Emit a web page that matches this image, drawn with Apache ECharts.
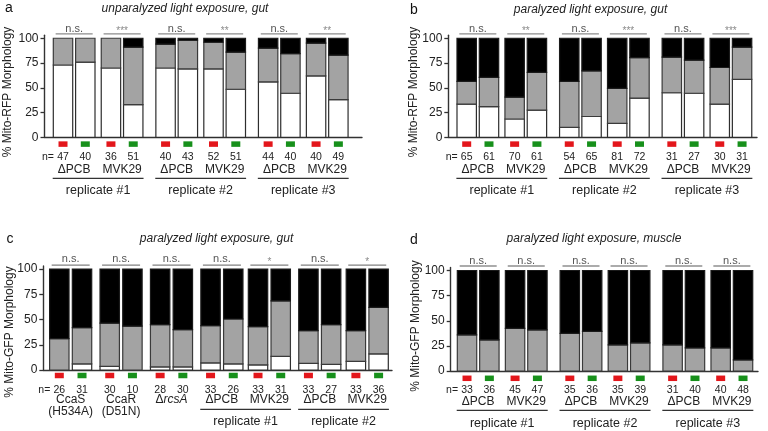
<!DOCTYPE html>
<html><head><meta charset="utf-8">
<script src="https://cdn.jsdelivr.net/npm/echarts@6/dist/echarts.min.js"></script>
<style>html,body{margin:0;padding:0;background:#fff}#c{width:768px;height:431px}</style>
</head><body><div id="c"></div>
<script>
// ================= DATA =================
// Panel a: unparalyzed light exposure, gut (% Mito-RFP Morphology)
const aWhite = [73, 76, 70, 33, 70, 69, 69, 48.5, 56, 44.5, 62, 38];
const aGray  = [27, 24, 30, 58, 24, 29, 27, 37.5, 34, 40, 33, 45];
const aBlack = [0, 0, 0, 9, 6, 2, 4, 14, 10, 15.5, 5, 17];
const aN     = [47, 40, 36, 51, 40, 43, 52, 51, 44, 40, 40, 49];
const aSig   = ['n.s.', '***', 'n.s.', '**', 'n.s.', '**'];

// Panel b: paralyzed light exposure, gut (% Mito-RFP Morphology)
const bWhite = [33.5, 31, 18.5, 27.5, 10, 21, 14, 39.5, 45, 44.5, 33.5, 58.5];
const bGray  = [23, 29.5, 22, 38, 46.5, 46, 35.5, 41, 36, 33.5, 37, 32.5];
const bBlack = [43.5, 39.5, 59.5, 34.5, 43.5, 33, 50.5, 19.5, 19, 22, 29.5, 9];
const bN     = [65, 61, 70, 61, 54, 65, 81, 72, 31, 27, 30, 31];
const bSig   = ['n.s.', '**', 'n.s.', '***', 'n.s.', '***'];

// Panel c: paralyzed light exposure, gut (% Mito-GFP Morphology)
const cWhite = [0, 6, 3.5, 0, 3, 3, 7, 6, 5, 13.5, 6.5, 5.5, 8.5, 16];
const cGray  = [31, 36, 43, 43.5, 42, 37, 37, 44.5, 38, 55, 32.5, 39.5, 30.5, 46];
const cBlack = [69, 58, 53.5, 56.5, 55, 60, 56, 49.5, 57, 31.5, 61, 55, 61, 38];
const cN     = [26, 31, 30, 10, 28, 30, 33, 26, 33, 31, 33, 27, 33, 36];
const cSig   = ['n.s.', 'n.s.', 'n.s.', 'n.s.', '*', 'n.s.', '*'];

// Panel d: paralyzed light exposure, muscle (% Mito-GFP Morphology)
const dWhite = [0, 0, 0, 0, 0, 0, 0, 0, 0, 0, 0, 0];
const dGray  = [36, 31, 42.5, 41, 37.5, 39.5, 26, 28, 26, 23, 23, 11];
const dBlack = [64, 69, 57.5, 59, 62.5, 60.5, 74, 72, 74, 77, 77, 89];
const dN     = [33, 36, 45, 47, 35, 36, 35, 39, 31, 40, 40, 48];
const dSig   = ['n.s.', 'n.s.', 'n.s.', 'n.s.', 'n.s.', 'n.s.'];

// categories
const lightColors = ['#e3161b', '#17901b'];           // red light, green light (per pair)
const abdGenotypes = ['ΔPCB', 'MVK29', 'ΔPCB', 'MVK29', 'ΔPCB', 'MVK29'];
const cGenotypes   = ['CcaS\n(H534A)', 'CcaR\n(D51N)', '{d|Δ}{i|rcsA}', 'ΔPCB', 'MVK29', 'ΔPCB', 'MVK29'];
const abdReplicates = ['replicate #1', 'replicate #2', 'replicate #3'];
const cReplicates   = ['', '', '', 'replicate #1', 'replicate #2'];
const abdClusterPairs = [2, 2, 2];
const cClusterPairs   = [1, 1, 1, 2, 2];
const yTicks = [0, 25, 50, 75, 100];

// ================= LAYOUT =================
const FONT = '"Liberation Sans", Arial, Helvetica, sans-serif';
const GRAY = '#a3a3a3';

function layoutPanel(clusterPairs, pairExtra, clusterExtra) {
  const bars = [], pairs = [], clusters = [];
  let x = 0, started = false;
  clusterPairs.forEach((np) => {
    const cStart = bars.length;
    for (let p = 0; p < np; p++) {
      const ps = bars.length;
      for (let k = 0; k < 2; k++) {
        if (started) x += 1 + (k === 0 ? (p === 0 ? clusterExtra : pairExtra) : 0);
        started = true;
        bars.push(x);
      }
      pairs.push((bars[ps] + bars[ps + 1]) / 2);
    }
    clusters.push([bars[cStart], bars[bars.length - 1]]);
  });
  return { bars, pairs, clusters };
}

const panels = [
  { white: aWhite, gray: aGray, black: aBlack, n: aN, sig: aSig, geno: abdGenotypes, reps: abdReplicates,
    lay: layoutPanel(abdClusterPairs, 0.15, 0.45),
    grid: { left: 44.5, right: 406, top: 35.3, bottom: 293.7 }, xMin: -0.83, xMax: 13.41,
    off: { sq: 6.8, n: 19.4, geno: 32.5, uline: 41, rep: 53, sigLine: -4.3, sigText: -9.5 },
    sigStyle: { stroke: '#8c8c8c', lineWidth: 1.3 }, sigHalf: 18.5,
    letter: ['a', 9, 8.5], title: ['unparalyzed light exposure, gut', 185, 8.5],
    yName: ['% Mito-RFP Morphology', 8, 92] },
  { white: bWhite, gray: bGray, black: bBlack, n: bN, sig: bSig, geno: abdGenotypes, reps: abdReplicates,
    lay: layoutPanel(abdClusterPairs, 0.15, 0.45),
    grid: { left: 448.3, right: 11, top: 35.3, bottom: 293.7 }, xMin: -0.825, xMax: 13.02,
    off: { sq: 6.8, n: 19.4, geno: 32.5, uline: 41, rep: 53, sigLine: -4.3, sigText: -9.5 },
    sigStyle: { stroke: '#8c8c8c', lineWidth: 1.3 }, sigHalf: 18.5,
    letter: ['b', 414, 10.5], title: ['paralyzed light exposure, gut', 590.5, 10],
    yName: ['% Mito-RFP Morphology', 414, 92] },
  { white: cWhite, gray: cGray, black: cBlack, n: cN, sig: cSig, geno: cGenotypes, reps: cReplicates,
    lay: layoutPanel(cClusterPairs, 0.09, 0.22),
    grid: { left: 43.3, right: 376, top: 266, bottom: 61 }, xMin: -0.705, xMax: 14.65,
    off: { sq: 5.5, n: 20, geno: 30, uline: 39.3, rep: 51.7, sigLine: -4, sigText: -9.6 },
    sigStyle: { stroke: '#808080', lineWidth: 1.3 }, sigHalf: 19,
    letter: ['c', 10, 239], title: ['paralyzed light exposure, gut', 216.5, 238.5],
    yName: ['% Mito-GFP Morphology', 10, 332] },
  { white: dWhite, gray: dGray, black: dBlack, n: dN, sig: dSig, geno: abdGenotypes, reps: abdReplicates,
    lay: layoutPanel(abdClusterPairs, 0.15, 0.45),
    grid: { left: 450.7, right: 10, top: 267.5, bottom: 60 }, xMin: -0.73, xMax: 13.02,
    off: { sq: 7.3, n: 19, geno: 30.7, uline: 39.3, rep: 52.3, sigLine: -4.5, sigText: -9.2 },
    sigStyle: { stroke: '#ababab', lineWidth: 2 }, sigHalf: 18.5,
    letter: ['d', 414, 240], title: ['paralyzed light exposure, muscle', 594, 239],
    yName: ['% Mito-GFP Morphology', 416, 326] }
];

const BARW = 19.4;
const option = { animation: false, backgroundColor: '#fff', grid: [], xAxis: [], yAxis: [], series: [], graphic: [] };

panels.forEach((P, k) => {
  option.grid.push(Object.assign({ containLabel: false, outerBoundsMode: 'none' }, P.grid));
  option.xAxis.push({
    type: 'value', gridIndex: k, min: P.xMin, max: P.xMax,
    axisLine: { show: true, onZero: false, lineStyle: { color: '#333', width: 1.4 } },
    axisTick: { show: false }, axisLabel: { show: false }, splitLine: { show: false }
  });
  option.yAxis.push({
    type: 'value', gridIndex: k, min: 0, max: 103, interval: 25,
    axisLine: { show: true, onZero: false, lineStyle: { color: '#333', width: 1.4 } },
    axisTick: { show: true, length: 4, customValues: yTicks, lineStyle: { color: '#333', width: 1.3 } },
    axisLabel: { show: true, customValues: yTicks, margin: 6, color: '#222', fontSize: 12, fontFamily: FONT,
                 formatter: v => (v % 25 === 0 ? String(v) : '') },
    splitLine: { show: false }
  });
  const L = P.lay;
  // stacked segments (white bottom, gray middle, black top), drawn through the axes' scales
  const base = L.bars.map(() => 0);
  [['white', '#ffffff', '#2e2e2e'], ['gray', GRAY, '#3a3a3a'], ['black', '#000000', '#1a1a1a']].forEach(([key, col, bc]) => {
    const segs = L.bars.map((x, i) => {
      const lo = base[i], hi = base[i] + P[key][i];
      base[i] = hi;
      return [x, lo, hi];
    });
    option.series.push({
      type: 'custom', name: key, xAxisIndex: k, yAxisIndex: k, silent: true, z: 2,
      data: segs, encode: { x: 0, y: [1, 2] },
      renderItem(params, api) {
        const x = api.value(0), lo = api.value(1), hi = api.value(2);
        if (hi - lo <= 0) return null;
        const pt = api.coord([x, hi]), pb = api.coord([x, lo]);
        return { type: 'rect', shape: { x: pt[0] - BARW / 2, y: pt[1], width: BARW, height: pb[1] - pt[1] },
                 style: { fill: col, stroke: bc, lineWidth: 1.2 } };
      }
    });
  });
  // bar-level marks: light colour squares and n labels
  option.series.push({
    type: 'custom', xAxisIndex: k, yAxisIndex: k, silent: true, z: 5, clip: false,
    data: L.bars.map((x, i) => [x, 0, i]), encode: { x: 0, y: 1 },
    renderItem(params, api) {
      const i = api.value(2);
      const pt = api.coord([api.value(0), 0]);
      const ch = [
        { type: 'rect', shape: { x: pt[0] - 4.5, y: pt[1] + P.off.sq - 2.75, width: 9, height: 5.5 },
          style: { fill: lightColors[i % 2] } },
        { type: 'text', x: pt[0], y: pt[1] + P.off.n,
          style: { text: String(P.n[i]), fill: '#222', fontSize: 10.5, fontFamily: FONT, align: 'center', verticalAlign: 'middle' } }
      ];
      if (i === 0) ch.push({ type: 'text', x: pt[0] - 9, y: pt[1] + P.off.n,
          style: { text: 'n=', fill: '#222', fontSize: 10.5, fontFamily: FONT, align: 'right', verticalAlign: 'middle' } });
      return { type: 'group', children: ch };
    }
  });
  // pair-level marks: significance bracket and genotype labels
  option.series.push({
    type: 'custom', xAxisIndex: k, yAxisIndex: k, silent: true, z: 5, clip: false,
    data: L.pairs.map((x, j) => [x, 100, j]), encode: { x: 0, y: 1 },
    renderItem(params, api) {
      const j = api.value(2);
      const top = api.coord([api.value(0), 100]);
      const base0 = api.coord([api.value(0), 0]);
      const s = P.sig[j];
      const star = s.indexOf('*') >= 0;
      const g = P.geno[j];
      const multi = g.indexOf('\n') >= 0;
      return { type: 'group', children: [
        { type: 'line', shape: { x1: top[0] - P.sigHalf, y1: top[1] + P.off.sigLine, x2: top[0] + P.sigHalf, y2: top[1] + P.off.sigLine },
          style: Object.assign({}, P.sigStyle) },
        { type: 'text', x: top[0], y: top[1] + P.off.sigText + (star ? 2.5 : 0),
          style: { text: s, fill: star ? '#8a8a8a' : '#555', fontSize: star ? 10 : 11, fontFamily: FONT, align: 'center', verticalAlign: 'middle' } },
        { type: 'text', x: base0[0], y: base0[1] + P.off.geno - (multi ? 6 : 0),
          style: { text: g, fill: '#222', fontSize: 12, fontFamily: FONT, align: 'center',
                   verticalAlign: multi ? 'top' : 'middle', lineHeight: 12,
                   rich: { d: { fontSize: 12, fontFamily: FONT, fill: '#222' },
                           i: { fontSize: 12, fontFamily: FONT, fontStyle: 'italic', fill: '#222' } } } }
      ] };
    }
  });
  // cluster-level marks: underline and replicate label
  option.series.push({
    type: 'custom', xAxisIndex: k, yAxisIndex: k, silent: true, z: 5, clip: false,
    data: L.clusters.map((c, ci) => [c[0], 0, c[1], ci]), encode: { x: [0, 2], y: 1 },
    renderItem(params, api) {
      const ci = api.value(3);
      const label = P.reps[ci];
      if (!label) return { type: 'group', children: [] };
      const p1 = api.coord([api.value(0), 0]);
      const p2 = api.coord([api.value(2), 0]);
      const hw = BARW / 2 + 0.6;
      return { type: 'group', children: [
        { type: 'line', shape: { x1: p1[0] - hw, y1: p1[1] + P.off.uline, x2: p2[0] + hw, y2: p1[1] + P.off.uline },
          style: { stroke: '#333', lineWidth: 1.2 } },
        { type: 'text', x: (p1[0] + p2[0]) / 2, y: p1[1] + P.off.rep,
          style: { text: label, fill: '#222', fontSize: 12.5, fontFamily: FONT, align: 'center', verticalAlign: 'middle' } }
      ] };
    }
  });
  // texts: panel letter, panel title, y-axis title
  option.graphic.push(
    { type: 'text', x: P.letter[1], y: P.letter[2], silent: true,
      style: { text: P.letter[0], fill: '#111', fontSize: 14, fontFamily: FONT, align: 'center', verticalAlign: 'middle' } },
    { type: 'text', x: P.title[1], y: P.title[2], silent: true,
      style: { text: P.title[0], fill: '#222', fontSize: 12, fontStyle: 'italic', fontFamily: FONT, align: 'center', verticalAlign: 'middle' } },
    { type: 'text', x: P.yName[1], y: P.yName[2], rotation: Math.PI / 2, silent: true,
      style: { text: P.yName[0], fill: '#222', fontSize: 12, fontFamily: FONT, align: 'center', verticalAlign: 'middle' } }
  );
});

const chart = echarts.init(document.getElementById('c'), null, { renderer: 'canvas', width: 768, height: 431 });
chart.setOption(option);
</script></body></html>
